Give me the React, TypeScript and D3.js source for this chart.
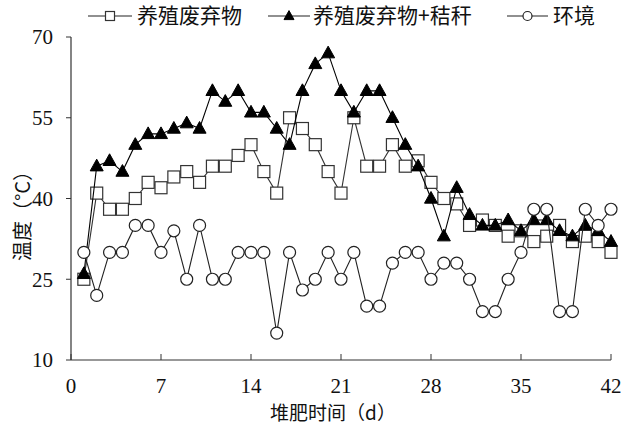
import React from "react";
import * as d3 from "d3";

const days = [1,2,3,4,5,6,7,8,9,10,11,12,13,14,15,16,17,18,19,20,21,22,23,24,25,26,27,28,29,30,31,32,33,34,35,36,37,38,39,40,41,42];
const manure = [25,41,38,38,40,43,42,44,45,43,46,46,48,50,45,41,55,53,50,45,41,55,46,46,50,46,47,43,40,39,35,36,35,33,34,32,33,35,32,33,32,30];
const manureStraw = [26,46,47,45,50,52,52,53,54,53,60,58,60,56,56,53,50,60,65,67,60,56,60,60,55,50,46,40,33,42,37,35,35,36,34,36,36,34,33,35,34,32];
const ambient = [30,22,30,30,35,35,30,34,25,35,25,25,30,30,30,15,30,23,25,30,25,30,20,20,28,30,30,25,28,28,25,19,19,25,30,38,38,19,19,38,35,38];
const xTicks = [0,7,14,21,28,35,42];
const yTicks = [10,25,40,55,70];
const seriesNames = ["养殖废弃物", "养殖废弃物+秸秆", "环境"];
const xTitle = "堆肥时间（d）";
const yTitle = "温度（°C）";

const W = 624, H = 426;
const left = 71, right = 611, top = 37, bottom = 360;
const numFont = "'Liberation Serif', 'Times New Roman', serif";
const cjkFont = "'Noto Sans CJK SC', sans-serif";

function Marker({ type, x, y, s }: { type: string; x: number; y: number; s: number }) {
  if (type === "square") {
    return <rect x={x - s / 2} y={y - s / 2} width={s} height={s} fill="#fff" stroke="#333" strokeWidth={1.2} />;
  }
  if (type === "triangle") {
    const h = s * 0.9;
    const pts = `${x},${y - h * 0.6} ${x - s / 2},${y + h * 0.4} ${x + s / 2},${y + h * 0.4}`;
    return <polygon points={pts} fill="#000" stroke="#000" strokeWidth={1} />;
  }
  return <circle cx={x} cy={y} r={s / 2} fill="#fff" stroke="#222" strokeWidth={1.2} />;
}

export default function App() {
  const x = d3.scaleLinear().domain([0, 42]).range([left, right]);
  const y = d3.scaleLinear().domain([10, 70]).range([bottom, top]);
  const series = [
    { name: seriesNames[0], data: manure, type: "square", color: "#333" },
    { name: seriesNames[1], data: manureStraw, type: "triangle", color: "#000" },
    { name: seriesNames[2], data: ambient, type: "circle", color: "#222" },
  ];
  const line = (vals: number[]) =>
    d3.line<number>().x((_, i) => x(days[i])).y((v) => y(v))(vals) || "";

  const legend = [
    { x1: 88, x2: 132, tx: 137, type: "square" },
    { x1: 268, x2: 310, tx: 313, type: "triangle" },
    { x1: 507, x2: 548, tx: 553, type: "circle" },
  ];
  const ly = 16;

  return (
    <svg width={W} height={H} style={{ position: "absolute", left: 0, top: 0, background: "#fff" }}>
      <rect width={W} height={H} fill="#fff" />
      <line x1={left} y1={top} x2={left} y2={bottom} stroke="#333" strokeWidth={1.2} />
      <line x1={left} y1={bottom} x2={right} y2={bottom} stroke="#333" strokeWidth={1.2} />
      {yTicks.map((t) => (
        <g key={"y" + t}>
          <line x1={left - 5} x2={left} y1={y(t)} y2={y(t)} stroke="#333" strokeWidth={1} />
          <text x={53} y={y(t)} dy="0.35em" textAnchor="end" fontFamily={numFont} fontSize={21} fill="#111">{t}</text>
        </g>
      ))}
      {xTicks.map((t) => (
        <g key={"x" + t}>
          <line x1={x(t)} x2={x(t)} y1={bottom} y2={bottom - 6} stroke="#333" strokeWidth={1} />
          <text x={x(t)} y={386} dy="0.35em" textAnchor="middle" fontFamily={numFont} fontSize={21} fill="#111">{t}</text>
        </g>
      ))}
      <text x={333} y={413} dy="0.35em" textAnchor="middle" fontFamily={cjkFont} fontSize={19} fill="#111">{xTitle}</text>
      <text transform={`translate(23,211) rotate(-90)`} dy="0.35em" textAnchor="middle" fontFamily={cjkFont} fontSize={20} fill="#111">{yTitle}</text>

      {series.map((s) => (
        <g key={s.name}>
          <path d={line(s.data)} fill="none" stroke={s.color} strokeWidth={1.1} />
          {s.data.map((v, i) => (
            <Marker key={i} type={s.type} x={x(days[i])} y={y(v)} s={s.type === "triangle" ? 13 : 12} />
          ))}
        </g>
      ))}

      {legend.map((l, i) => (
        <g key={"lg" + i}>
          <line x1={l.x1} x2={l.x2} y1={ly} y2={ly} stroke="#222" strokeWidth={1.2} />
          <Marker type={l.type} x={(l.x1 + l.x2) / 2} y={ly} s={l.type === "triangle" ? 10 : 9} />
          <text x={l.tx} y={ly} dy="0.35em" fontFamily={cjkFont} fontSize={21} fill="#111">{seriesNames[i]}</text>
        </g>
      ))}
    </svg>
  );
}
